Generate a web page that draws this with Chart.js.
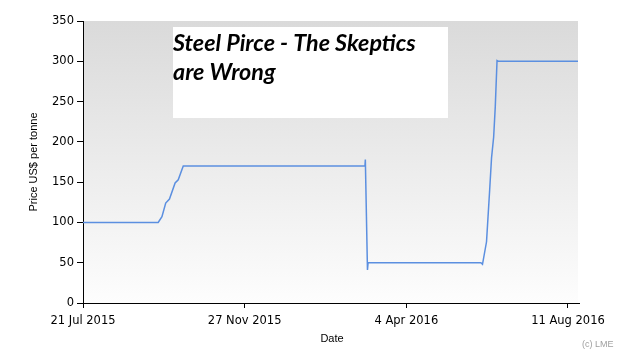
<!DOCTYPE html>
<html>
<head>
<meta charset="utf-8">
<script src="https://cdn.jsdelivr.net/npm/chart.js@4.4.1/dist/chart.umd.min.js"></script>
<style>
  html, body { margin: 0; padding: 0; background: #fff; }
  #wrap { width: 630px; height: 360px; }
</style>
</head>
<body>
<div id="wrap"><canvas id="chart" width="630" height="360"></canvas></div>
<script>
"use strict";

/* ---------- data (x = days since 21 Jul 2015) ---------- */
const dayOffsets = [0, 60, 63, 66, 69, 73.5, 76, 80, 225, 225.3, 227, 227.5, 317.5, 318.8, 322, 324.5, 326, 327.7, 329, 330.4, 331.5, 395];
const prices     = [100, 100, 107, 124, 129, 149, 153, 170, 170, 178, 41, 50, 50, 48, 76, 140, 180, 206, 244, 301, 300, 300];

const xTickDays   = [0, 129, 258, 387];
const xTickLabels = ["21 Jul 2015", "27 Nov 2015", "4 Apr 2016", "11 Aug 2016"];

const titleLines = ["Steel Pirce - The Skeptics", "are Wrong"];

/* ---------- plugins ---------- */
const plotBackground = {
  id: "plotBackground",
  beforeDraw(chart) {
    const { ctx, chartArea: a } = chart;
    const g = ctx.createLinearGradient(0, a.top, 0, a.bottom);
    g.addColorStop(0, "#dadada");
    g.addColorStop(1, "#fdfdfd");
    ctx.save();
    ctx.fillStyle = g;
    ctx.fillRect(a.left, a.top, a.right - a.left - 1, a.bottom - a.top);
    ctx.restore();
  }
};

const decorations = {
  id: "decorations",
  afterDraw(chart) {
    const { ctx } = chart;
    ctx.save();

    // headline box
    ctx.fillStyle = "#fff";
    ctx.fillRect(173, 27, 275, 91);
    ctx.fillStyle = "#000";
    ctx.font = "italic bold 23.3px Lato";
    ctx.textBaseline = "alphabetic";
    ctx.textAlign = "left";
    ctx.fillText(titleLines[0], 173, 51);
    ctx.fillText(titleLines[1], 173, 80);

    // axis titles
    ctx.font = "11px 'Liberation Sans'";
    ctx.fillStyle = "#000";
    ctx.textAlign = "center";
    ctx.textBaseline = "middle";
    ctx.fillText("Date", 332, 339);

    ctx.save();
    ctx.translate(34, 162);
    ctx.rotate(-Math.PI / 2);
    ctx.fillText("Price US$ per tonne", 0, 0);
    ctx.restore();

    ctx.font = "9px 'Liberation Sans'";
    ctx.fillStyle = "#a0a0a0";
    ctx.textAlign = "left";
    ctx.fillText("(c) LME", 582, 345);

    ctx.restore();
  }
};

/* ---------- chart ---------- */
const el = document.getElementById("chart");
const points = dayOffsets.map((d, i) => ({ x: d, y: prices[i] }));

new Chart(el, {
  type: "line",
  data: {
    datasets: [{
      data: points,
      borderColor: "#5b8fe0",
      borderWidth: 1.5,
      pointRadius: 0,
      tension: 0,
      fill: false,
    }],
  },
  options: {
    responsive: false,
    animation: false,
    devicePixelRatio: 1,
    layout: { padding: { left: 0, top: 21, right: 51, bottom: 0 } },
    plugins: { legend: { display: false }, tooltip: { enabled: false } },
    scales: {
      x: {
        type: "linear",
        min: 0,
        max: 395.8,
        afterFit: (s) => { s.height = 57; },
        afterBuildTicks: (s) => { s.ticks = xTickDays.map(v => ({ value: v })); },
        grid: { drawOnChartArea: false, drawTicks: true, tickLength: 5, color: "#000" },
        border: { display: true, color: "#000", width: 1 },
        ticks: {
          autoSkip: false,
          maxRotation: 0,
          padding: 6,
          color: "#000",
          font: { family: "DejaVu Sans", size: 11.5 },
          callback: (v) => xTickLabels[xTickDays.indexOf(v)],
        },
      },
      y: {
        min: 0,
        max: 350,
        afterFit: (s) => { s.width = 83; },
        grid: { drawOnChartArea: false, drawTicks: true, tickLength: 6, color: "#000" },
        border: { display: true, color: "#000", width: 1 },
        ticks: {
          stepSize: 50,
          padding: 3,
          color: "#000",
          font: { family: "DejaVu Sans", size: 11.5 },
        },
      },
    },
  },
  plugins: [plotBackground, decorations],
});
</script>
</body>
</html>
